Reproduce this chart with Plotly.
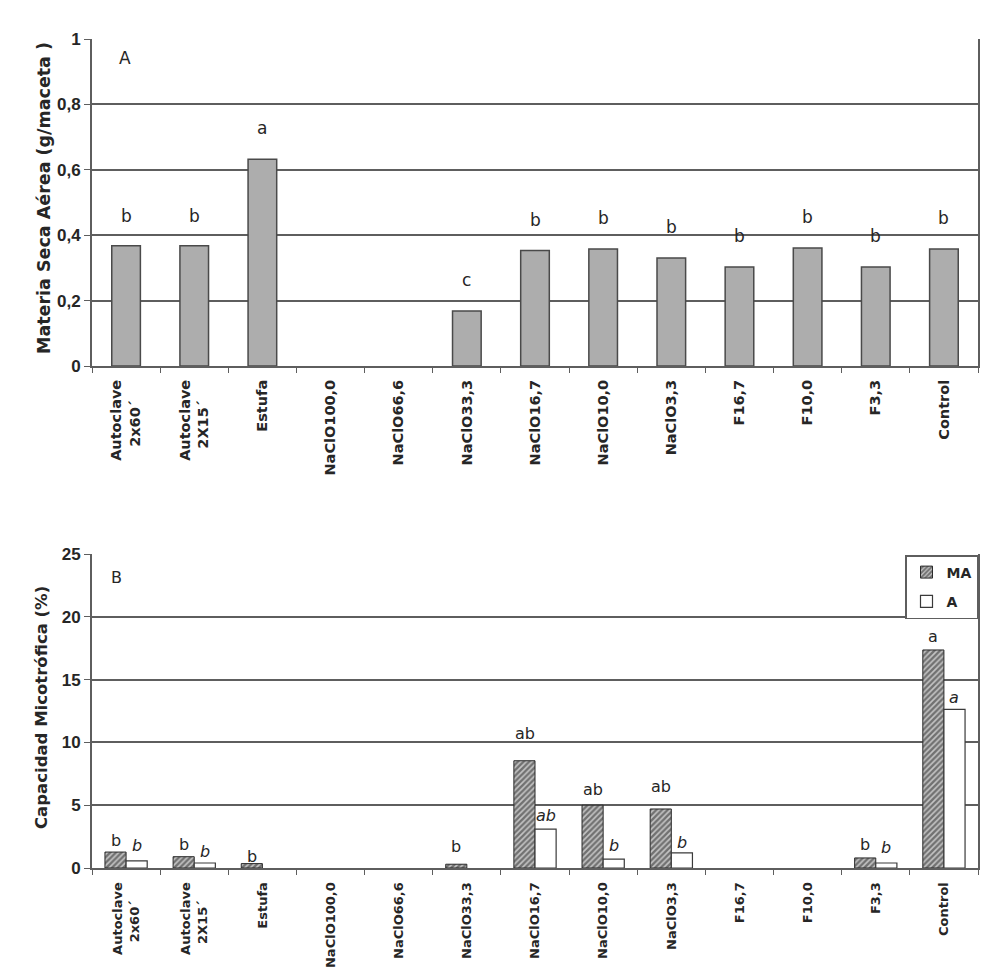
import plotly.graph_objects as go

categories = ["Autoclave 2x60´", "Autoclave 2X15´", "Estufa", "NaClO100,0", "NaClO66,6",
              "NaClO33,3", "NaClO16,7", "NaClO10,0", "NaClO3,3", "F16,7", "F10,0", "F3,3", "Control"]
NB = "\u00a0"
tick_labels = ["Autoclave<br>2x60´" + NB * 4, "Autoclave<br>2X15´" + NB * 4, "Estufa", "NaClO100,0",
               "NaClO66,6", "NaClO33,3", "NaClO16,7", "NaClO10,0", "NaClO3,3", "F16,7", "F10,0",
               "F3,3", "Control"]

# Panel A: Materia Seca Aérea (g/maceta)
msa_values = [0.368, 0.368, 0.632, 0, 0, 0.168, 0.353, 0.358, 0.330, 0.303, 0.361, 0.303, 0.358]
msa_letters = ["b", "b", "a", "", "", "c", "b", "b", "b", "b", "b", "b", "b"]

# Panel B: Capacidad Micotrófica (%)
ma_values = [1.27, 0.9, 0.35, 0, 0, 0.3, 8.54, 5.0, 4.7, 0, 0, 0.8, 17.36]
a_values = [0.56, 0.4, 0, 0, 0, 0, 3.1, 0.7, 1.2, 0, 0, 0.4, 12.63]
ma_letters = ["b", "b", "b", "", "", "b", "ab", "ab", "ab", "", "", "b", "a"]
a_letters = ["b", "b", "", "", "", "", "ab", "b", "b", "", "", "b", "a"]

ticks_a = [0, 0.2, 0.4, 0.6, 0.8, 1]
ticks_a_text = ["0", "0,2", "0,4", "0,6", "0,8", "1"]
ticks_b = [0, 5, 10, 15, 20, 25]

LIB = "Liberation Sans, Arial, sans-serif"
DJV = "DejaVu Sans, sans-serif"
GRID = "#5e5e5e"
TXT = "#262626"


def px(x):
    return (x - 8) / 999


def py(y):
    return 1 - (y - 8) / 976


# styling offsets for letters (px)
msa_shift = [18, 18, 19, 0, 0, 19, 19, 19, 19, 19, 19, 19, 19]
ma_shift = [0, 1, -4, 0, 0, 6, 16, 4, 11, 0, 0, 2, 2]
a_shift = [4, 0, 0, 0, 0, 0, 2, 2, -1, 0, 0, 4, 0]


def lw(vals, w):
    return [w if v > 0 else 0 for v in vals]


fig = go.Figure()

fig.add_trace(go.Bar(x=categories, y=msa_values, xaxis="x", yaxis="y",
                     marker=dict(color="#adadad", line=dict(color="#4a4a4a", width=lw(msa_values, 1.5))),
                     width=0.42, showlegend=False))

fig.add_trace(go.Bar(x=categories, y=ma_values, xaxis="x2", yaxis="y2", name="MA", legendgroup="MA",
                     marker=dict(color="#c4c4c4", line=dict(color="#2a2a2a", width=lw(ma_values, 1)),
                                 pattern=dict(shape="/", fgcolor="#1e1e1e", bgcolor="#c4c4c4",
                                              size=4, solidity=0.6))))
fig.add_trace(go.Bar(x=categories, y=a_values, xaxis="x2", yaxis="y2", name="A", legendgroup="A",
                     marker=dict(color="white", line=dict(color="#3a3a3a", width=lw(a_values, 1.2)))))

annotations = []
for c, v, t, s in zip(categories, msa_values, msa_letters, msa_shift):
    if t:
        annotations.append(dict(x=c, y=v, xref="x", yref="y", text=t, showarrow=False,
                                yanchor="bottom", yshift=s, font=dict(family=DJV, size=17, color=TXT)))
for c, v, t, s in zip(categories, ma_values, ma_letters, ma_shift):
    if t:
        annotations.append(dict(x=c, y=v, xref="x2", yref="y2", text=t, showarrow=False,
                                yanchor="bottom", yshift=s, xshift=-10.5,
                                font=dict(family=DJV, size=16, color=TXT)))
for c, v, t, s in zip(categories, a_values, a_letters, a_shift):
    if t:
        annotations.append(dict(x=c, y=v, xref="x2", yref="y2", text="<i>" + t + "</i>",
                                showarrow=False, yanchor="bottom", yshift=s, xshift=10.5,
                                font=dict(family=DJV, size=16, color=TXT)))

annotations += [
    dict(x=px(125), y=py(58), xref="paper", yref="paper", text="A", showarrow=False,
         xanchor="center", yanchor="middle", font=dict(family=DJV, size=17, color=TXT)),
    dict(x=px(116), y=py(577), xref="paper", yref="paper", text="B", showarrow=False,
         xanchor="center", yanchor="middle", font=dict(family=DJV, size=16, color=TXT)),
    dict(x=px(44), y=py(198), xref="paper", yref="paper", text="<b>Materia Seca Aérea (g/maceta )</b>",
         showarrow=False, textangle=-90, xanchor="center", yanchor="middle",
         font=dict(family=DJV, size=17.5, color=TXT)),
    dict(x=px(41), y=py(708), xref="paper", yref="paper", text="<b>Capacidad Micotrófica (%)</b>",
         showarrow=False, textangle=-90, xanchor="center", yanchor="middle",
         font=dict(family=DJV, size=16.5, color=TXT)),
]

xcommon = dict(type="category", showline=True, linecolor=GRID, linewidth=2,
               ticks="outside", tickson="boundaries", ticklen=5, tickcolor=GRID,
               tickangle=-90, showgrid=False, automargin=False,
               tickvals=categories, ticktext=tick_labels)
ycommon = dict(showline=True, linecolor=GRID, linewidth=2, mirror=True,
               ticks="outside", ticklen=6, tickcolor=GRID, showgrid=True,
               gridcolor=GRID, gridwidth=2, zeroline=False, automargin=False,
               tickfont=dict(family=LIB, size=17, color=TXT, weight="bold"))

fig.update_layout(
    width=999, height=976,
    margin=dict(l=0, r=0, t=0, b=0),
    paper_bgcolor="white", plot_bgcolor="white",
    font=dict(family=LIB, color=TXT),
    barmode="group", bargap=0.38, bargroupgap=0,
    xaxis=dict(domain=[px(92), px(978)], anchor="y", ticklabelstandoff=6,
               tickfont=dict(family=DJV, size=14.5, color=TXT, weight="bold"), **xcommon),
    yaxis=dict(domain=[py(366), py(39)], anchor="x", range=[0, 1], tickvals=ticks_a,
               ticktext=ticks_a_text, **ycommon),
    xaxis2=dict(domain=[px(92), px(978)], anchor="y2", ticklabelstandoff=7,
                tickfont=dict(family=DJV, size=13, color=TXT, weight="bold"), **xcommon),
    yaxis2=dict(domain=[py(868), py(554)], anchor="x2", range=[0, 25], tickvals=ticks_b, **ycommon),
    legend=dict(x=px(978), y=py(555), xanchor="right", yanchor="top", bgcolor="white",
                bordercolor=GRID, borderwidth=1.5, itemwidth=30, traceorder="grouped",
                tracegroupgap=8,
                font=dict(family=DJV, size=14, color=TXT, weight="bold")),
    annotations=annotations,
)

fig.write_html("out.html")
